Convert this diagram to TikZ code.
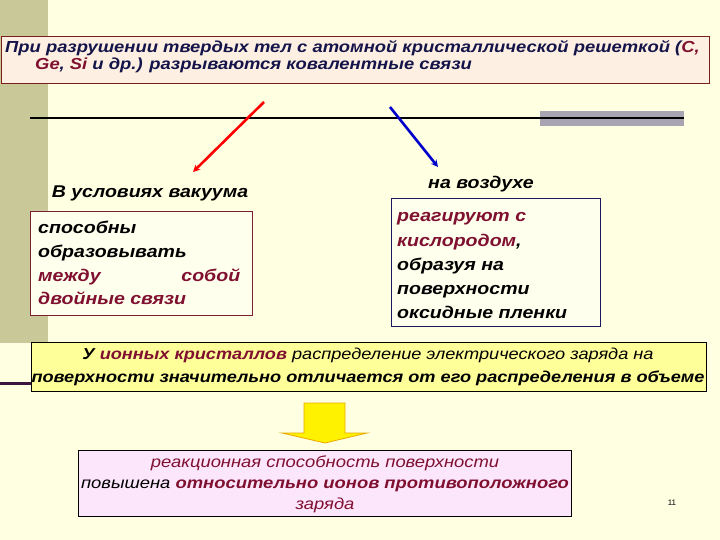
\documentclass[tikz,border=0pt]{standalone}
\usepackage{fontspec}
\setmainfont{Liberation Sans}[FakeStretch=1.15]
\newfontfamily\plainfont{Liberation Sans}
\usetikzlibrary{arrows.meta}
\definecolor{bg}{HTML}{FFFFE1}
\definecolor{strip}{HTML}{C8C898}
\definecolor{topfill}{HTML}{FDF0E2}
\definecolor{topborder}{HTML}{7A1E1E}
\definecolor{navy}{HTML}{14144A}
\definecolor{dred}{HTML}{7F1030}
\definecolor{midfill}{HTML}{FFFF99}
\definecolor{pinkfill}{HTML}{FCE6FC}
\definecolor{graybar}{HTML}{A8A4B2}
\definecolor{boxfill}{HTML}{FFFFEE}
\definecolor{lborder}{HTML}{7A2030}
\definecolor{rborder}{HTML}{1A1A60}
\definecolor{darkline}{HTML}{3C1440}
\definecolor{arrowyellow}{HTML}{FFF200}
\definecolor{arroworange}{HTML}{E8A800}
\tikzset{
  boxstyle/.style={anchor=north west, inner sep=0pt, line width=1pt},
  txtblock/.style={inner sep=0pt, font=\bfseries\itshape},
  conn/.style={line width=2.6pt, -{Stealth[length=7pt,width=7pt]}}
}
\begin{document}
\begin{tikzpicture}[x=1pt,y=-1pt]
\useasboundingbox (0,0) rectangle (720,540);
\fill[bg] (0,0) rectangle (720,540);
% left strip and decorative line
\fill[strip] (0,0) rectangle (48,343);
\draw[darkline, line width=3pt] (0,383) -- (31,383);
% horizontal rule with gray bar
\fill[graybar] (540,111) rectangle (684,126);
\draw[black, line width=2pt] (30,118) -- (684,118);

% top box
\node[boxstyle, draw=topborder, fill=topfill, minimum width=708pt, minimum height=47pt] (topbox) at (1,36) {};
\node[txtblock, anchor=north west, align=left, text=navy, font=\bfseries\itshape\fontsize{16}{17.5}\selectfont] (toptxt) at (5,40)
 {\vphantom{Б}При разрушении твердых тел с атомной кристаллической решеткой (\textcolor{dred}{C,}\\
  \hspace*{30pt}\textcolor{dred}{Ge}, \textcolor{dred}{Si} и др.) разрываются ковалентные связи};

% arrows
\coordinate (rs) at (264,102);
\coordinate (re) at (193,172);
\coordinate (bs) at (390,107);
\coordinate (be) at (438,167);
\draw[conn, red] (rs) -- (re);
\draw[conn, blue!80!black] (bs) -- (be);

% left branch
\node[txtblock, anchor=base, font=\bfseries\itshape\fontsize{17}{19}\selectfont] (vac) at (150,197) {В условиях вакуума};
\node[boxstyle, draw=lborder, fill=boxfill, minimum width=222pt, minimum height=104pt] (lbox) at (30,211) {};
\node[txtblock, anchor=north west, align=left, font=\bfseries\itshape\fontsize{17}{23.7}\selectfont] (ltxt) at (38,221)
 {\vphantom{Б}способны\\
  образовывать\\
  \textcolor{dred}{\makebox[202pt][l]{между\hfill собой}}\\
  \textcolor{dred}{двойные связи}};

% right branch
\node[txtblock, anchor=base, font=\bfseries\itshape\fontsize{17}{19}\selectfont] (air) at (481,189) {на воздухе};
\node[boxstyle, draw=rborder, fill=boxfill, minimum width=209pt, minimum height=128pt] (rbox) at (391,198) {};
\node[txtblock, anchor=north west, align=left, font=\bfseries\itshape\fontsize{17}{24.2}\selectfont] (rtxt) at (397,210)
 {\vphantom{Б}\textcolor{dred}{реагируют с}\\
  \textcolor{dred}{кислородом},\\
  образуя на\\
  поверхности\\
  оксидные пленки};

% middle box
\node[boxstyle, draw=black, fill=midfill, minimum width=675pt, minimum height=49pt] (mbox) at (31,342) {};
\node[txtblock, anchor=north, align=center, font=\itshape\fontsize{15.8}{23}\selectfont] (mtxt) at (368,347.5)
 {\vphantom{Б}\textbf{У} \textbf{\textcolor{dred}{ионных кристаллов}} распределение электрического заряда на\\
  \textbf{поверхности значительно отличается от его распределения в объеме}};

% yellow block arrow
\filldraw[fill=arrowyellow, draw=arroworange, line width=0.8pt]
  (304,403) -- (345,403) -- (345,433) -- (367,433) -- (325,443) -- (282,433) -- (304,433) -- cycle;

% bottom box
\node[boxstyle, draw=black, fill=pinkfill, minimum width=493pt, minimum height=66pt] (bbox) at (78,450) {};
\node[txtblock, anchor=north, align=center, font=\itshape\fontsize{16}{21}\selectfont] (btxt) at (325,455.3)
 {\vphantom{Б}\textcolor{dred}{реакционная способность поверхности}\\
  повышена \textcolor{dred}{\textbf{относительно ионов противоположного}}\\
  \textcolor{dred}{заряда}};

% page number
\node[anchor=base, inner sep=0pt, font=\plainfont\fontsize{8}{9}\selectfont] (pnum) at (672,505) {11};
\end{tikzpicture}
\end{document}
